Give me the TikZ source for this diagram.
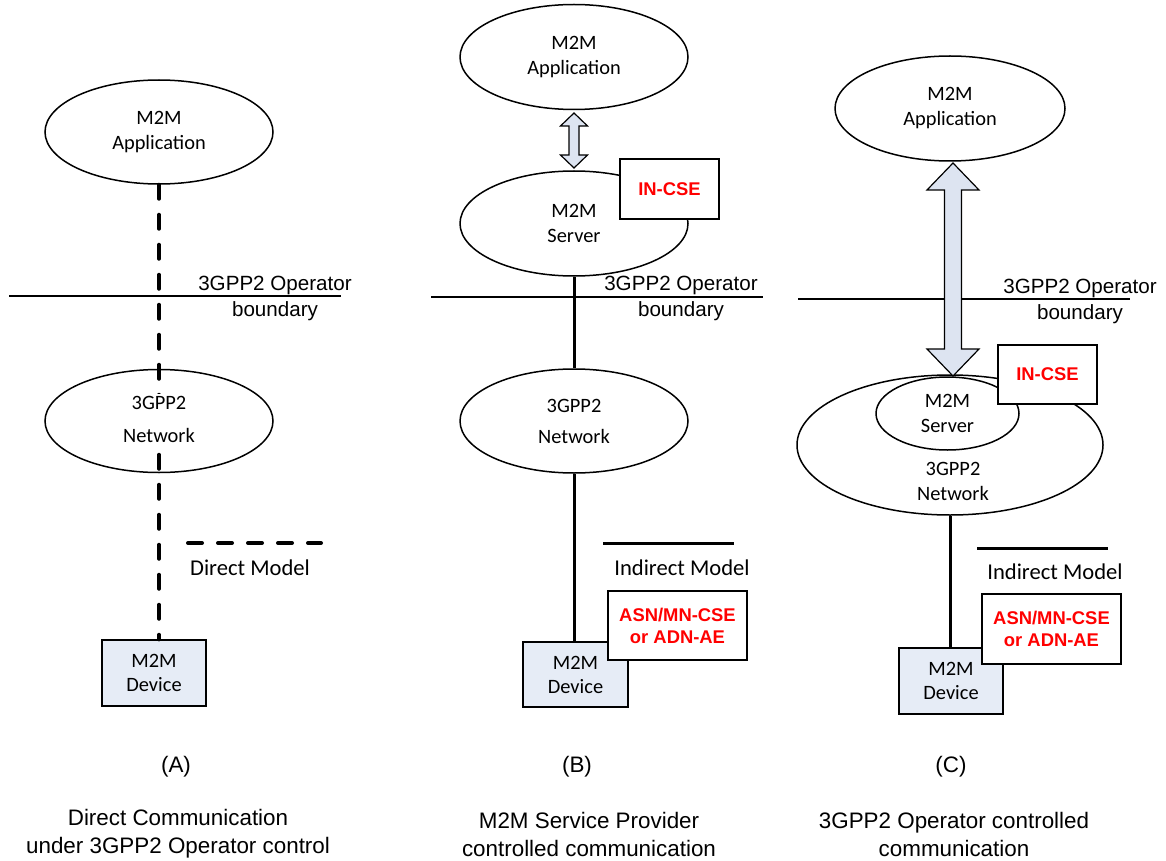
\documentclass[tikz,border=0pt]{standalone}
\usepackage{fontspec}
\setmainfont{Carlito}
\newfontfamily\arialf{Liberation Sans}
\usetikzlibrary{shapes.geometric,calc}
\definecolor{devfill}{HTML}{E6ECF6}
\definecolor{arrfill}{HTML}{DDE4F1}
\newcommand\dblarrow[5]{%
  \draw[blk] (#1) -- ++(#3,#5) -- ++({#4-#3},0) -- ($(#2)+(#4,{-#5})$) -- ++({#3-#4},0)
    -- (#2) -- ++({-#3},{-#5}) -- ++({#3-#4},0) -- ($(#1)+({-#4},#5)$) -- ++({#4-#3},0) -- cycle;}
\begin{document}
\begin{tikzpicture}[x=0.5pt,y=-0.5pt,
  ell/.style={ellipse,draw,line width=0.75pt,fill=white,inner sep=0pt,align=center,
    font=\fontsize{10.2}{12.5}\selectfont},
  devbox/.style={rectangle,draw,line width=0.6pt,fill=devfill,inner sep=0pt,align=center,
    font=\fontsize{10.2}{12}\selectfont},
  cse/.style={rectangle,draw,line width=0.6pt,fill=white,inner sep=0pt,align=center,text=red,
    font=\arialf\bfseries\fontsize{9.2}{11}\selectfont},
  lbl/.style={align=center,inner sep=0pt,font=\arialf\fontsize{10.3}{13}\selectfont},
  captxt/.style={align=center,inner sep=0pt,font=\arialf\fontsize{11.2}{14}\selectfont},
  model/.style={inner sep=0pt,font=\fontsize{11.3}{13}\selectfont},
  conn/.style={line width=1.5pt},
  dconn/.style={line width=2pt,dash pattern=on 7pt off 8pt,line cap=round},
  bnd/.style={line width=0.75pt},
  blk/.style={draw,line width=0.6pt,fill=arrfill,line join=miter}
]
\useasboundingbox (0,0) rectangle (1166,861);

% ================= Panel A =================
\coordinate (bA1) at (9,296);
\coordinate (bA2) at (341,296);
\draw[bnd] (bA1) -- (bA2);
\node[lbl] (opA) at (275,298) {3GPP2 Operator\\boundary};
\node[ell,minimum width=114pt,minimum height=52pt] (appA) at (159,132) {M2M\\Application};
\node[ell,minimum width=114pt,minimum height=51.5pt] (netA) at (159,421) {};
\node[devbox,minimum width=52pt,minimum height=33pt] (devA) at (154,673) {M2M\\Device};
\draw[dconn] (appA.south) -- (appA.south |- devA.north);
\node[fill=white,inner sep=1pt,align=center,font=\fontsize{10.2}{16.5}\selectfont] (netAt) at (159,419) {3GPP2\\Network};
\coordinate (dmA1) at (188,543);
\coordinate (dmA2) at (321,543);
\draw[dconn] (dmA1) -- (dmA2);
\node[model] (dmAt) at (250,568) {Direct Model};
\node[captxt] (capA) at (176,767) {(A)};
\node[captxt] (descA) at (178,834) {Direct Communication\\under 3GPP2 Operator control};

% ================= Panel B =================
\coordinate (bB1) at (431,297);
\coordinate (bB2) at (763,297);
\draw[bnd] (bB1) -- (bB2);
\node[lbl] (opB) at (681,298) {3GPP2 Operator\\boundary};
\node[ell,minimum width=114pt,minimum height=52.5pt] (appB) at (574,57) {M2M\\Application};
\node[ell,minimum width=114pt,minimum height=52.5pt] (srvB) at (574,223.5) {M2M\\Server};
\node[ell,minimum width=114pt,minimum height=52pt,font=\fontsize{10.2}{15.5}\selectfont] (netB) at (574,421) {3GPP2\\Network};
\node[devbox,minimum width=52.5pt,minimum height=32.5pt] (devB) at (575.5,674.5) {M2M\\Device};
\draw[conn] (srvB.south) -- (netB.north);
\draw[conn] (netB.south) -- (netB.south |- devB.north);
\coordinate (tB) at (574,113);
\coordinate (bB) at (574,168);
\dblarrow{tB}{bB}{13.5}{5}{13}
\node[cse,minimum width=49.5pt,minimum height=30pt] (cseB) at (669.5,189) {IN-CSE};
\coordinate (imB1) at (603,543);
\coordinate (imB2) at (734,543);
\draw[conn] (imB1) -- (imB2);
\node[model] (imBt) at (682,568) {Indirect Model};
\node[cse,minimum width=69.5pt,minimum height=34.5pt] (asnB) at (677.5,625.5) {ASN/MN-CSE\\or ADN-AE};
\node[captxt] (capB) at (577,767) {(B)};
\node[captxt] (descB) at (589,834) {M2M Service Provider\\controlled communication};

% ================= Panel C =================
\coordinate (bC1) at (798,299);
\coordinate (bC2) at (1130,299);
\draw[bnd] (bC1) -- (bC2);
\node[lbl] (opC) at (1080,301) {3GPP2 Operator\\boundary};
\node[ell,minimum width=115pt,minimum height=52.5pt] (appC) at (950,108.5) {M2M\\Application};
\node[ell,minimum width=153pt,minimum height=70pt] (netC) at (950,445) {};
\node[align=center,inner sep=0pt,font=\fontsize{10.2}{12.5}\selectfont] (netCt) at (953,481) {3GPP2\\Network};
\node[ell,minimum width=71.5pt,minimum height=36.5pt] (srvC) at (947.5,413.5) {M2M\\Server};
\node[devbox,minimum width=52pt,minimum height=33pt] (devC) at (951,681) {M2M\\Device};
\draw[conn] (netC.south) -- (netC.south |- devC.north);
\coordinate (tC) at (953,163);
\coordinate (bC) at (953,376);
\dblarrow{tC}{bC}{26}{8.5}{27}
\node[cse,minimum width=49.5pt,minimum height=29.5pt] (cseC) at (1047.5,374.5) {IN-CSE};
\coordinate (imC1) at (977,548);
\coordinate (imC2) at (1108,548);
\draw[conn] (imC1) -- (imC2);
\node[model] (imCt) at (1055,572) {Indirect Model};
\node[cse,minimum width=69.5pt,minimum height=35pt] (asnC) at (1051.5,629) {ASN/MN-CSE\\or ADN-AE};
\node[captxt] (capC) at (951,767) {(C)};
\node[captxt] (descC) at (954,834) {3GPP2 Operator controlled\\communication};
\end{tikzpicture}
\end{document}
